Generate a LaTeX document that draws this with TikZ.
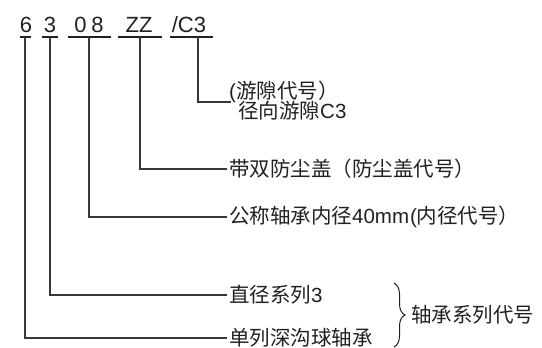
\documentclass[tikz,border=0pt]{standalone}
\usepackage{fontspec}
\setmainfont{Liberation Sans}
\newfontfamily\cjk{Noto Sans CJK SC}
\usetikzlibrary{decorations.pathreplacing}
\definecolor{txt}{HTML}{231F20}
\definecolor{ln}{HTML}{3C3633}
\tikzset{
  code/.style={anchor=base, inner sep=0pt, font=\fontsize{22}{26}\selectfont, text=txt},
  lbl/.style={anchor=west, inner xsep=2pt, inner ysep=0pt, font=\fontsize{20.5}{24}\selectfont, text=txt},
  conn/.style={draw=ln, line width=1.1pt},
  uline/.style={draw=txt, line width=1.4pt}
}
\begin{document}
\begin{tikzpicture}[x=1pt,y=-1pt]
\useasboundingbox (0,0) rectangle (542,348);
% code characters
\node[code] (c6) at (26,33) {6};
\node[code] (c3) at (50,33) {3};
\node[code] (c08) at (89,33) {0\hspace{5pt}8};
\node[code] (czz) at (139,33) {ZZ};
\node[code] (cc3) at (189,33) {/C3};
% underlines
\draw[uline] (20,37) -- (31,37);
\draw[uline] (42,37) -- (58,37);
\draw[uline] (68,37) -- (111,37);
\draw[uline] (118,37) -- (162,37);
\draw[uline] (170,37) -- (213,37);
\coordinate (u6) at (25,37);
\coordinate (u3) at (50,37);
\coordinate (u08) at (89,37);
\coordinate (uzz) at (140,37);
\coordinate (uc3) at (198,37);
% labels
\node[lbl] (lc3a) at (227,92) {({\cjk 游隙代号）}};
\node[lbl] (lc3b) at (227,111) {\hspace*{9pt}{\cjk 径向游隙}C3};
\coordinate (jc3) at (231,102);
\node[lbl] (lzz) at (227,169) {{\cjk 带双防尘盖（防尘盖代号）}};
\node[lbl] (l08) at (227,217) {{\cjk 公称轴承内径}40mm\hspace{1pt}({\cjk 内径代号）}};
\node[lbl] (l3) at (227,295) {{\cjk 直径系列}3};
\node[lbl] (l6) at (227,338) {{\cjk 单列深沟球轴承}};
% connectors
\draw[conn] (uc3) |- (jc3);
\draw[conn] (uzz) |- (lzz.west);
\draw[conn] (u08) |- (l08.west);
\draw[conn] (u3) |- (l3.west);
\draw[conn] (u6) |- (l6.west);
% brace
\coordinate (bt) at (394,283);
\coordinate (bb) at (394,347);
\draw[draw=txt, line width=1pt, decorate, decoration={brace, amplitude=11pt}] (bt) -- (bb);
\node[lbl] (lser) at (409,315) {{\cjk 轴承系列代号}};
\end{tikzpicture}
\end{document}
